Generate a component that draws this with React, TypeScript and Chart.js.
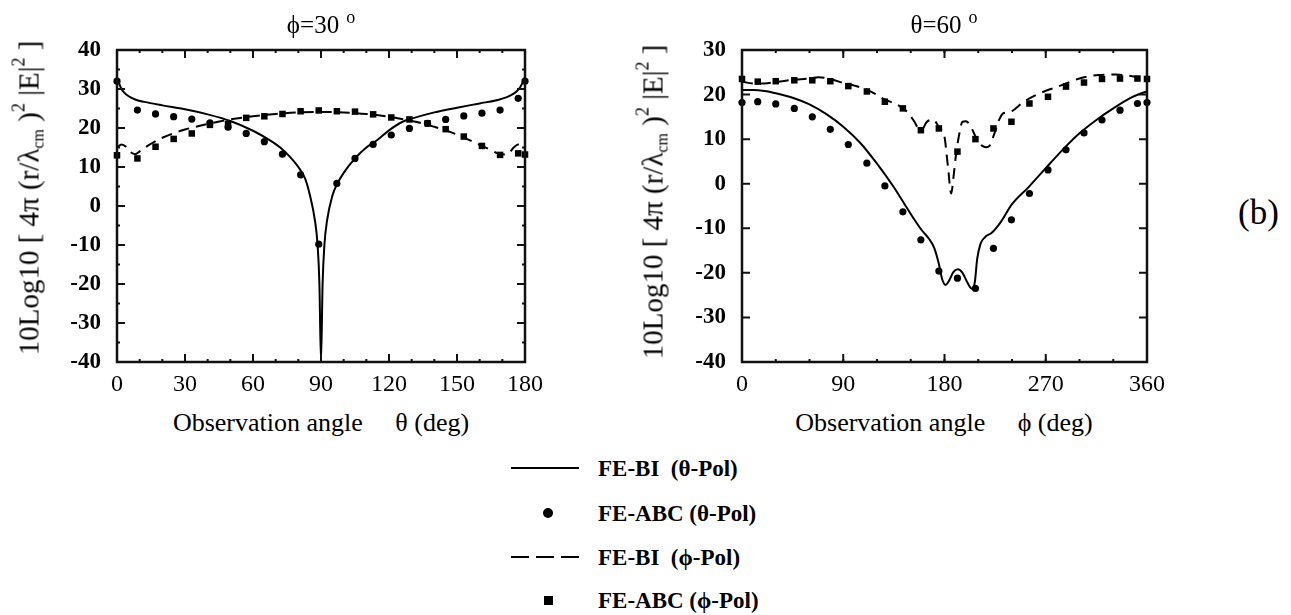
import React, { useEffect, useRef } from "react";
import { Chart, registerables } from "chart.js";

Chart.register(...registerables);

// ---------- Left panel: phi = 30 deg, x = theta (0..180) ----------
const L_X_TICKS = [0, 30, 60, 90, 120, 150, 180];
const L_Y_TICKS = [-40, -30, -20, -10, 0, 10, 20, 30, 40];

const L_BI_THETA_X = [0, 1, 2, 3, 5, 8, 12, 20, 30, 40, 50, 60, 67, 72, 76, 80, 83, 85, 87.3, 88.5, 89.3, 90, 90.7, 91.5, 92.7, 95, 97, 100, 105, 110, 115, 120, 126, 130, 140, 150, 160, 168, 172, 175, 177, 178, 179, 180];
const L_BI_THETA_Y = [33, 31.3, 30, 29.2, 28.2, 27.3, 26.7, 25.8, 24.8, 23.5, 21.8, 19.3, 17, 15, 12.8, 10, 7, 3, -3.6, -10, -20, -40, -20, -10, -3.6, 2.6, 5.5, 8.5, 12.2, 15, 17, 19.4, 21.6, 22.4, 24, 25.2, 26.3, 27.2, 27.9, 28.8, 29.8, 30.6, 31.7, 33];

const L_ABC_X = [0, 9, 17, 25, 33, 41, 49, 57, 65, 73, 81, 89, 97, 105, 113, 121, 129, 137, 145, 153, 161, 169, 177, 180];
const L_ABC_THETA_Y = [32, 24.6, 23.6, 22.9, 22.3, 21.3, 20.2, 18.6, 16.5, 13.3, 8, -9.8, 5.8, 12.2, 15.8, 18.2, 19.9, 21.2, 22.2, 23.1, 23.8, 24.6, 27.6, 32];
const L_ABC_PHI_Y = [13, 12.2, 15.2, 17.2, 18.6, 20.8, 21, 22.6, 23, 23.6, 24.3, 24.5, 24.3, 24.2, 23.5, 22.7, 22.2, 21.2, 19.7, 17.8, 15.4, 13.1, 13.5, 13.2];

const L_BI_PHI_X = [0, 2, 4, 6, 8, 10, 14, 20, 30, 40, 50, 60, 70, 80, 90, 100, 110, 120, 130, 136, 140, 146, 152, 158, 164, 168, 171, 173, 175, 177, 179, 180];
const L_BI_PHI_Y = [15, 15.8, 15.2, 13.8, 13.3, 14, 15.6, 17.5, 19.6, 21, 22.2, 23, 23.6, 24, 24.1, 24, 23.6, 22.9, 21.8, 21, 20.3, 19.2, 17.8, 16.2, 14.6, 13.5, 13.2, 13.6, 15, 15.8, 15.6, 15];

// ---------- Right panel: theta = 60 deg, x = phi (0..360) ----------
const R_X_TICKS = [0, 90, 180, 270, 360];
const R_Y_TICKS = [-40, -30, -20, -10, 0, 10, 20, 30];

const R_BI_THETA_X = [0, 10, 20, 30, 45, 60, 75, 90, 105, 120, 135, 150, 160, 166, 171, 175, 178, 181, 184, 188, 192, 196, 200, 203, 205, 207, 209, 212, 216, 222, 230, 240, 255, 270, 285, 300, 315, 330, 345, 355, 360];
const R_BI_THETA_Y = [21, 21, 20.8, 20.3, 19.3, 17.8, 15.6, 12.8, 9.2, 4.5, -0.8, -6.8, -10.5, -12.3, -14.5, -18, -21.5, -22.7, -21.8, -19.8, -19.2, -20, -22, -23.3, -23.6, -22, -17, -13.5, -12, -11, -8.6, -4.6, -0.7, 3.5, 7.6, 11.3, 14.3, 16.9, 19.2, 20.3, 20.7];

const R_ABC_X = [0, 14, 30, 46.5, 62.5, 78.5, 94.5, 111, 127, 143, 159, 175, 191.5, 207.5, 223.5, 239.5, 255.5, 272, 288, 304, 320, 336, 351.5, 360];
const R_ABC_THETA_Y = [18.2, 18.4, 17.9, 16.9, 15, 12.2, 8.8, 4.6, -0.5, -6.3, -12.6, -19.6, -21.2, -23.5, -14.5, -8.1, -2.2, 3.1, 7.6, 11.4, 14.3, 16.5, 18, 18.2];
const R_ABC_PHI_Y = [23.5, 22.9, 23, 23.2, 23.2, 23, 21.9, 20.7, 18.4, 16.9, 12, 12.4, 7.2, 10, 12.4, 13.9, 18, 19.5, 21.8, 22.7, 23.5, 23.6, 23.6, 23.5];

const R_BI_PHI_X = [0, 10, 20, 30, 45, 60, 68, 80, 90, 100, 112, 127, 141, 148, 153, 157, 160, 164, 168, 171, 173, 176, 180, 183, 186, 188, 190, 193, 196, 199, 202, 205, 209, 213, 217, 220, 224, 228, 232, 236, 240, 250, 262, 283, 300, 317, 332, 350, 360];
const R_BI_PHI_Y = [22.9, 22.5, 22.5, 22.8, 23.3, 23.6, 23.9, 23.4, 22.6, 22, 21, 18.9, 17.3, 15.8, 14, 12.4, 12.2, 13.8, 14.3, 14.3, 13.5, 12.4, 10.5, 4, -2.2, 1.5, 6.1, 11, 13.9, 14, 13.4, 12, 9.8, 8.6, 8.2, 8.5, 11, 14, 15.8, 16, 16.3, 18.3, 20, 22, 23.6, 24.4, 24.5, 24, 23.5];

const SERIF = '"Liberation Serif", "Times New Roman", serif';

const zip = (xs: number[], ys: number[]) => xs.map((x, i) => ({ x, y: ys[i] }));

const frameTicks = {
  id: "frameTicks",
  afterDraw(chart: any, _args: any, opts: any) {
    const { ctx, chartArea: a, scales } = chart;
    const xs = scales.x;
    const ys = scales.y;
    ctx.save();
    ctx.strokeStyle = "#111";
    ctx.lineWidth = 2;
    const xLine = (step: number, len: number) => {
      if (!step) return;
      for (let v = xs.min; v <= xs.max + 1e-9; v += step) {
        const px = xs.getPixelForValue(v);
        ctx.beginPath();
        ctx.moveTo(px, a.bottom);
        ctx.lineTo(px, a.bottom - len);
        ctx.moveTo(px, a.top);
        ctx.lineTo(px, a.top + len);
        ctx.stroke();
      }
    };
    const yLine = (step: number, len: number) => {
      if (!step) return;
      for (let v = ys.min; v <= ys.max + 1e-9; v += step) {
        const py = ys.getPixelForValue(v);
        ctx.beginPath();
        ctx.moveTo(a.left, py);
        ctx.lineTo(a.left + len, py);
        ctx.moveTo(a.right, py);
        ctx.lineTo(a.right - len, py);
        ctx.stroke();
      }
    };
    xLine(opts.xMinor, 3);
    xLine(opts.xMajor, 8);
    yLine(opts.yMinor, 3);
    yLine(opts.yMajor, 8);
    ctx.lineWidth = 2.5;
    ctx.strokeRect(a.left, a.top, a.right - a.left, a.bottom - a.top);
    ctx.restore();
  },
};

type PanelProps = {
  left: number;
  width: number;
  height: number;
  axisWidth: number;
  padRight: number;
  xMax: number;
  yMin: number;
  yMax: number;
  xTicks: number[];
  yTicks: number[];
  ticksCfg: { xMajor: number; xMinor: number; yMajor: number; yMinor: number };
  solid: { x: number; y: number }[];
  circles: { x: number; y: number }[];
  dashed: { x: number; y: number }[];
  squares: { x: number; y: number }[];
};

function Panel(p: PanelProps) {
  const ref = useRef<HTMLCanvasElement | null>(null);
  useEffect(() => {
    if (!ref.current) return;
    const chart = new Chart(ref.current, {
      type: "scatter",
      data: {
        datasets: [
          {
            label: "FE-BI (θ-Pol)",
            data: p.solid,
            showLine: true,
            borderColor: "#000",
            borderWidth: 2,
            pointRadius: 0,
            cubicInterpolationMode: "monotone",
          } as any,
          {
            label: "FE-ABC (θ-Pol)",
            data: p.circles,
            showLine: false,
            pointStyle: "circle",
            pointRadius: 3.6,
            backgroundColor: "#000",
            borderColor: "#000",
            borderWidth: 0,
            clip: 6,
          } as any,
          {
            label: "FE-BI (ϕ-Pol)",
            data: p.dashed,
            showLine: true,
            borderColor: "#000",
            borderWidth: 2,
            borderDash: [11, 7],
            pointRadius: 0,
            cubicInterpolationMode: "monotone",
          } as any,
          {
            label: "FE-ABC (ϕ-Pol)",
            data: p.squares,
            showLine: false,
            pointStyle: "rect",
            pointRadius: 4.6,
            backgroundColor: "#000",
            borderColor: "#000",
            borderWidth: 0,
            clip: 6,
          } as any,
        ],
      },
      options: {
        responsive: false,
        animation: false,
        events: [],
        layout: { padding: { top: 50, right: p.padRight, left: 0, bottom: 0 } },
        plugins: {
          legend: { display: false },
          tooltip: { enabled: false },
          frameTicks: p.ticksCfg,
        } as any,
        scales: {
          x: {
            type: "linear",
            min: 0,
            max: p.xMax,
            grid: { display: false, drawTicks: false },
            border: { display: false },
            afterBuildTicks: (s: any) => {
              s.ticks = p.xTicks.map((v) => ({ value: v }));
            },
            afterFit: (s: any) => {
              s.height = p.height - 362;
            },
            ticks: {
              color: "#000",
              padding: 8,
              maxRotation: 0,
              autoSkip: false,
              font: { family: SERIF, size: 24 },
            },
          },
          y: {
            type: "linear",
            min: p.yMin,
            max: p.yMax,
            grid: { display: false, drawTicks: false },
            border: { display: false },
            afterBuildTicks: (s: any) => {
              s.ticks = p.yTicks.map((v) => ({ value: v }));
            },
            afterFit: (s: any) => {
              s.width = p.axisWidth;
            },
            ticks: {
              color: "#000",
              padding: 16,
              autoSkip: false,
              font: { family: SERIF, size: 23, weight: "bold" },
            },
          },
        },
      },
      plugins: [frameTicks],
    });
    return () => chart.destroy();
  }, []);
  return (
    <canvas
      ref={ref}
      width={p.width}
      height={p.height}
      style={{ position: "absolute", left: p.left, top: 0, width: p.width, height: p.height }}
    />
  );
}

const abs = (style: React.CSSProperties): React.CSSProperties => ({
  position: "absolute",
  whiteSpace: "pre",
  fontFamily: SERIF,
  color: "#000",
  lineHeight: 1,
  ...style,
});

function YLabel({ cx, cy }: { cx: number; cy: number }) {
  return (
    <div
      style={abs({
        left: cx,
        top: cy,
        fontSize: 29,
        transform: "translate(-50%, -50%) rotate(-90deg)",
      })}
    >
      {"10Log10 [ 4π (r/λ"}
      <sub style={{ fontSize: 16, verticalAlign: -5 }}>cm</sub>
      {" )"}
      <sup style={{ fontSize: 18, verticalAlign: 14 }}>2</sup>
      {" |E|"}
      <sup style={{ fontSize: 18, verticalAlign: 14 }}>2</sup>
      {" ]"}
    </div>
  );
}

function Title({ cx, cy, sym, val }: { cx: number; cy: number; sym: string; val: string }) {
  return (
    <div style={abs({ left: cx, top: cy, fontSize: 25, transform: "translate(-50%, -50%)" })}>
      {sym}={val}
      <sup style={{ fontSize: 18, verticalAlign: 10, marginLeft: 7 }}>o</sup>
    </div>
  );
}

function XTitle({ cx, cy, sym }: { cx: number; cy: number; sym: string }) {
  return (
    <div style={abs({ left: cx, top: cy, fontSize: 26, transform: "translate(-50%, -50%)" })}>
      {"Observation angle     " + sym + " (deg)"}
    </div>
  );
}

function LegendRow({ y, kind, text }: { y: number; kind: string; text: string }) {
  let sym: React.ReactNode = null;
  if (kind === "solid") {
    sym = <div style={{ position: "absolute", left: 511, top: y - 1, width: 68, height: 0, borderTop: "2px solid #000" }} />;
  } else if (kind === "dash") {
    sym = (
      <>
        {[0, 1, 2].map((i) => (
          <div
            key={i}
            style={{ position: "absolute", left: 511 + i * 25, top: y - 1, width: 18, height: 0, borderTop: "2px solid #000" }}
          />
        ))}
      </>
    );
  } else if (kind === "circle") {
    sym = <div style={{ position: "absolute", left: 543, top: y - 5, width: 10, height: 10, borderRadius: "50%", background: "#000" }} />;
  } else {
    sym = <div style={{ position: "absolute", left: 544, top: y - 4.5, width: 9, height: 9, background: "#000" }} />;
  }
  return (
    <>
      {sym}
      <div style={abs({ left: 598, top: y, fontSize: 23, fontWeight: "bold", transform: "translateY(-50%)" })}>{text}</div>
    </>
  );
}

export default function App() {
  return (
    <div
      style={{
        position: "absolute",
        left: 0,
        top: 0,
        width: 1291,
        height: 615,
        background: "#fff",
        overflow: "hidden",
      }}
    >
      <Panel
        left={0}
        width={560}
        height={400}
        axisWidth={117}
        padRight={35}
        xMax={180}
        yMin={-40}
        yMax={40}
        xTicks={L_X_TICKS}
        yTicks={L_Y_TICKS}
        ticksCfg={{ xMajor: 30, xMinor: 10, yMajor: 10, yMinor: 5 }}
        solid={zip(L_BI_THETA_X, L_BI_THETA_Y)}
        circles={zip(L_ABC_X, L_ABC_THETA_Y)}
        dashed={zip(L_BI_PHI_X, L_BI_PHI_Y)}
        squares={zip(L_ABC_X, L_ABC_PHI_Y)}
      />
      <Panel
        left={600}
        width={600}
        height={400}
        axisWidth={142}
        padRight={53}
        xMax={360}
        yMin={-40}
        yMax={30}
        xTicks={R_X_TICKS}
        yTicks={R_Y_TICKS}
        ticksCfg={{ xMajor: 90, xMinor: 30, yMajor: 10, yMinor: 0 }}
        solid={zip(R_BI_THETA_X, R_BI_THETA_Y)}
        circles={zip(R_ABC_X, R_ABC_THETA_Y)}
        dashed={zip(R_BI_PHI_X, R_BI_PHI_Y)}
        squares={zip(R_ABC_X, R_ABC_PHI_Y)}
      />
      <Title cx={321} cy={22} sym="ϕ" val="30" />
      <Title cx={944} cy={22} sym="θ" val="60" />
      <YLabel cx={28} cy={198} />
      <YLabel cx={652} cy={202} />
      <XTitle cx={321} cy={423} sym="θ" />
      <XTitle cx={944} cy={423} sym="ϕ" />
      <div style={abs({ left: 1238, top: 212, fontSize: 35, transform: "translateY(-50%)" })}>(b)</div>
      <LegendRow y={468} kind="solid" text="FE-BI  (θ-Pol)" />
      <LegendRow y={513} kind="circle" text="FE-ABC (θ-Pol)" />
      <LegendRow y={557} kind="dash" text="FE-BI  (ϕ-Pol)" />
      <LegendRow y={600} kind="square" text="FE-ABC (ϕ-Pol)" />
    </div>
  );
}
